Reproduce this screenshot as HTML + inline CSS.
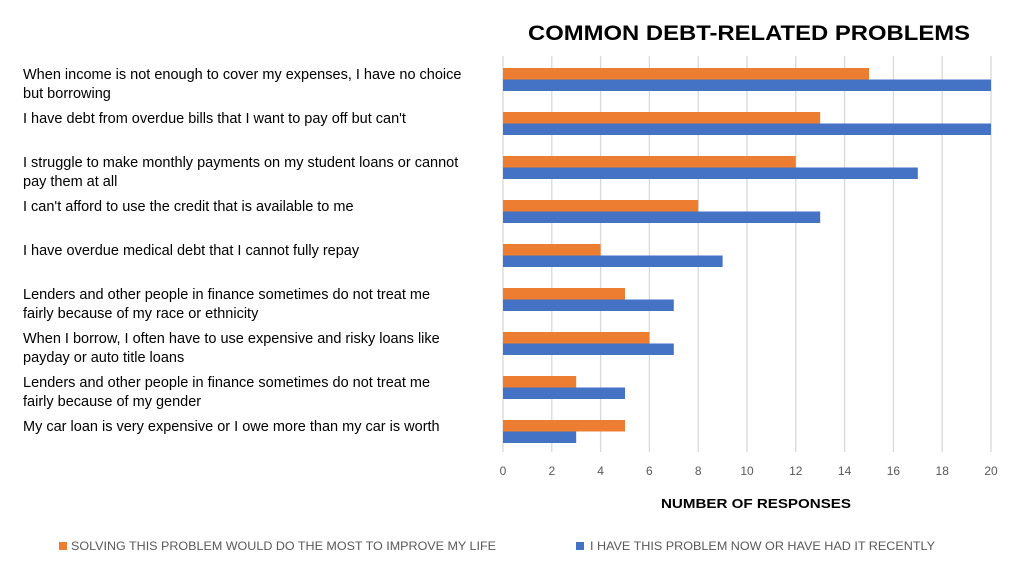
<!DOCTYPE html>
<html><head><meta charset="utf-8"><style>
body{margin:0;background:#fff;font-family:"Liberation Sans",sans-serif;}
svg{display:block}
</style></head><body>
<svg id="c" width="1009" height="572"></svg>
<script>
const categories=[
["When income is not enough to cover my expenses, I have no choice","but borrowing"],
["I have debt from overdue bills that I want to pay off but can't"],
["I struggle to make monthly payments on my student loans or cannot","pay them at all"],
["I can't afford to use the credit that is available to me"],
["I have overdue medical debt that I cannot fully repay"],
["Lenders and other people in finance sometimes do not treat me","fairly because of my race or ethnicity"],
["When I borrow, I often have to use expensive and risky loans like","payday or auto title loans"],
["Lenders and other people in finance sometimes do not treat me","fairly because of my gender"],
["My car loan is very expensive or I owe more than my car is worth"]];
const solvingValues=[15,13,12,8,4,5,6,3,5];
const haveValues=[20,20,17,13,9,7,7,5,3];
const ticks=[0,2,4,6,8,10,12,14,16,18,20];
const NS="http://www.w3.org/2000/svg";
const svg=document.getElementById('c');
function mk(t,a,txt){const e=document.createElementNS(NS,t);for(const k in a)e.setAttribute(k,a[k]);if(txt!==undefined)e.textContent=txt;svg.appendChild(e);return e;}
const x=v=>503+v*24.4;
const y=i=>68+i*44;
ticks.forEach(t=>{
const g=mk('line',{x1:x(t),x2:x(t),y1:56,y2:452,stroke:'#d9d9d9','stroke-width':1.3});

const l=mk('text',{x:x(t),y:475,'text-anchor':'middle','font-size':12,fill:'#595959'},t);

});
categories.forEach((c,i)=>{
const b1=mk('rect',{x:x(0),y:y(i),width:x(solvingValues[i])-x(0),height:11.5,fill:'#ED7D31'});

const b2=mk('rect',{x:x(0),y:y(i)+11.5,width:x(haveValues[i])-x(0),height:11.5,fill:'#4472C4'});

c.forEach((line,j)=>{
const t=mk('text',{x:23,y:y(i)+11+j*19,'font-size':14.5,fill:'#000'},line);

});
});
let t=mk('text',{x:528,y:40,'font-size':21,'font-weight':'bold',fill:'#000',textLength:442,lengthAdjust:'spacingAndGlyphs'},'COMMON DEBT-RELATED PROBLEMS');

t=mk('text',{x:661,y:508,'font-size':13,'font-weight':'bold',fill:'#000',textLength:190,lengthAdjust:'spacingAndGlyphs'},'NUMBER OF RESPONSES');

let r=mk('rect',{x:59,y:542,width:8,height:8,fill:'#ED7D31'});

t=mk('text',{x:71,y:550,'font-size':12,fill:'#595959',textLength:425,lengthAdjust:'spacingAndGlyphs'},'SOLVING THIS PROBLEM WOULD DO THE MOST TO IMPROVE MY LIFE');

r=mk('rect',{x:576,y:542,width:8,height:8,fill:'#4472C4'});

t=mk('text',{x:590,y:550,'font-size':12,fill:'#595959',textLength:345,lengthAdjust:'spacingAndGlyphs'},'I HAVE THIS PROBLEM NOW OR HAVE HAD IT RECENTLY');

</script>
</body></html>
